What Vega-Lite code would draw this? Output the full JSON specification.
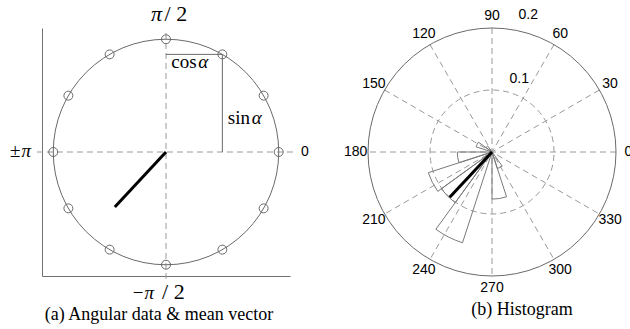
{
  "$schema": "https://vega.github.io/schema/vega-lite/v6.json",
  "autosize": {"type": "pad"},
  "padding": {"left": 10, "top": 2, "right": 0, "bottom": 0},
  "background": "white",
  "bounds": "flush",
  "spacing": 78,
  "config": {
    "view": {"stroke": null},
    "font": "Liberation Sans",
    "title": {"font": "Liberation Serif", "fontSize": 18, "fontWeight": "normal", "color": "black", "orient": "bottom", "anchor": "middle", "frame": "group"}
  },
  "datasets": {
    "circle_a": [{"start": 0, "end": 360, "r": 1}],
    "guides_a": [
      {"x": -1.145, "y": 0, "x2": 1.127, "y2": 0},
      {"x": 0, "y": 1.056, "x2": 0, "y2": -1.162}
    ],
    "samples": [
      {"angle": 0, "x": 1, "y": 0},
      {"angle": 30, "x": 0.866, "y": 0.5},
      {"angle": 60, "x": 0.5, "y": 0.866},
      {"angle": 90, "x": 0, "y": 1},
      {"angle": 120, "x": -0.5, "y": 0.866},
      {"angle": 150, "x": -0.866, "y": 0.5},
      {"angle": 180, "x": -1, "y": 0},
      {"angle": 210, "x": -0.866, "y": -0.5},
      {"angle": 240, "x": -0.5, "y": -0.866},
      {"angle": 270, "x": 0, "y": -1},
      {"angle": 300, "x": 0.5, "y": -0.866},
      {"angle": 330, "x": 0.866, "y": -0.5}
    ],
    "components": [
      {"part": "cos", "x": 0, "y": 0.866, "x2": 0.5, "y2": 0.866},
      {"part": "sin", "x": 0.5, "y": 0.866, "x2": 0.5, "y2": 0}
    ],
    "mean_a": [{"x": 0, "y": 0, "x2": -0.454, "y2": -0.487}],
    "upright_right_a": [
      {"text": "cos", "x": 0.272, "y": 0.743},
      {"text": "sin", "x": 0.745, "y": 0.246},
      {"text": "±", "x": -1.291, "y": -0.042},
      {"text": "−", "x": -0.2, "y": -1.305}
    ],
    "italic_left_a": [
      {"text": "α", "x": 0.287, "y": 0.743},
      {"text": "α", "x": 0.76, "y": 0.246},
      {"text": "π", "x": -1.282, "y": -0.042},
      {"text": "π", "x": -0.19, "y": -1.305}
    ],
    "italic_right_a": [
      {"text": "π", "x": -0.035, "y": 1.165}
    ],
    "upright_left_a": [
      {"text": "/ 2", "x": -0.013, "y": 1.165},
      {"text": "/ 2", "x": -0.035, "y": -1.305}
    ],
    "zero_a": [{"text": "0", "x": 1.233, "y": 0}],
    "rings": [
      {"ring": "outer", "start": 0, "end": 360, "r": 0.2},
      {"ring": "inner", "start": 0, "end": 360, "r": 0.1}
    ],
    "spokes": [
      {"x": 0.2, "y": 0, "x2": -0.2, "y2": 0},
      {"x": 0.1732, "y": 0.1, "x2": -0.1732, "y2": -0.1},
      {"x": 0.1, "y": 0.1732, "x2": -0.1, "y2": -0.1732},
      {"x": 0, "y": 0.2, "x2": 0, "y2": -0.2},
      {"x": -0.1, "y": 0.1732, "x2": 0.1, "y2": -0.1732},
      {"x": -0.1732, "y": 0.1, "x2": 0.1732, "y2": -0.1}
    ],
    "rose": [
      {"start": 126, "end": 144, "freq": 0.012},
      {"start": 144, "end": 162, "freq": 0.027},
      {"start": 180, "end": 198, "freq": 0.056},
      {"start": 198, "end": 216, "freq": 0.108},
      {"start": 216, "end": 234, "freq": 0.101},
      {"start": 234, "end": 252, "freq": 0.154},
      {"start": 270, "end": 288, "freq": 0.076},
      {"start": 288, "end": 306, "freq": 0.028}
    ],
    "mean_b": [{"x": 0, "y": 0, "x2": -0.0682, "y2": -0.0731}],
    "angle_labels": [
      {"label": "0", "x": 0.22, "y": 0},
      {"label": "30", "x": 0.1905, "y": 0.11},
      {"label": "60", "x": 0.11, "y": 0.1905},
      {"label": "90", "x": 0, "y": 0.22},
      {"label": "120", "x": -0.11, "y": 0.1905},
      {"label": "150", "x": -0.1905, "y": 0.11},
      {"label": "180", "x": -0.22, "y": 0},
      {"label": "210", "x": -0.1905, "y": -0.11},
      {"label": "240", "x": -0.11, "y": -0.1905},
      {"label": "270", "x": 0, "y": -0.22},
      {"label": "300", "x": 0.11, "y": -0.1905},
      {"label": "330", "x": 0.1905, "y": -0.11}
    ],
    "ring_labels": [
      {"label": "0.1", "x": 0.044, "y": 0.118},
      {"label": "0.2", "x": 0.0585, "y": 0.221}
    ]
  },
  "hconcat": [
    {
      "width": 248,
      "height": 248,
      "title": {"text": "(a) Angular data & mean vector", "dx": -7, "offset": 3},
      "layer": [
        {
          "data": {"name": "guides_a"},
          "mark": {"type": "rule", "color": "#9a9a9a", "strokeWidth": 1, "strokeDash": [6, 4]},
          "encoding": {
            "x": {"field": "x", "type": "quantitative", "scale": {"domain": [-1.1, 1.1], "nice": false, "zero": false},
                  "axis": {"title": null, "labels": false, "ticks": false, "grid": false, "domainColor": "#707070", "domainWidth": 1}},
            "y": {"field": "y", "type": "quantitative", "scale": {"domain": [-1.1, 1.1], "nice": false, "zero": false},
                  "axis": {"title": null, "labels": false, "ticks": false, "grid": false, "domainColor": "#707070", "domainWidth": 1}},
            "x2": {"field": "x2"},
            "y2": {"field": "y2"}
          }
        },
        {
          "data": {"name": "circle_a"},
          "mark": {"type": "arc", "fill": null, "stroke": "#6a6a6a", "strokeWidth": 1},
          "encoding": {
            "theta": {"field": "start", "type": "quantitative", "stack": null, "scale": {"domain": [0, 360], "range": [1.5708, -4.7124]}},
            "theta2": {"field": "end"},
            "radius": {"field": "r", "type": "quantitative", "stack": null, "scale": {"type": "linear", "domain": [0, 1.1], "range": [0, 124]}}
          }
        },
        {
          "data": {"name": "samples"},
          "mark": {"type": "point", "shape": "circle", "size": 80, "filled": false, "stroke": "#6a6a6a", "strokeWidth": 1, "opacity": 1},
          "encoding": {
            "x": {"field": "x", "type": "quantitative"},
            "y": {"field": "y", "type": "quantitative"}
          }
        },
        {
          "data": {"name": "components"},
          "mark": {"type": "rule", "color": "#6a6a6a", "strokeWidth": 1},
          "encoding": {
            "x": {"field": "x", "type": "quantitative"},
            "y": {"field": "y", "type": "quantitative"},
            "x2": {"field": "x2"},
            "y2": {"field": "y2"}
          }
        },
        {
          "data": {"name": "mean_a"},
          "mark": {"type": "rule", "color": "black", "strokeWidth": 3},
          "encoding": {
            "x": {"field": "x", "type": "quantitative"},
            "y": {"field": "y", "type": "quantitative"},
            "x2": {"field": "x2"},
            "y2": {"field": "y2"}
          }
        },
        {
          "data": {"name": "upright_right_a"},
          "mark": {"type": "text", "font": "Liberation Serif", "fontSize": 19, "align": "right", "baseline": "alphabetic", "color": "black"},
          "encoding": {
            "x": {"field": "x", "type": "quantitative"},
            "y": {"field": "y", "type": "quantitative"},
            "text": {"field": "text"}
          }
        },
        {
          "data": {"name": "italic_left_a"},
          "mark": {"type": "text", "font": "Liberation Serif", "fontSize": 19, "fontStyle": "italic", "align": "left", "baseline": "alphabetic", "color": "black"},
          "encoding": {
            "x": {"field": "x", "type": "quantitative"},
            "y": {"field": "y", "type": "quantitative"},
            "text": {"field": "text"}
          }
        },
        {
          "data": {"name": "italic_right_a"},
          "mark": {"type": "text", "font": "Liberation Serif", "fontSize": 22, "fontStyle": "italic", "align": "right", "baseline": "alphabetic", "color": "black"},
          "encoding": {
            "x": {"field": "x", "type": "quantitative"},
            "y": {"field": "y", "type": "quantitative"},
            "text": {"field": "text"}
          }
        },
        {
          "data": {"name": "upright_left_a"},
          "mark": {"type": "text", "font": "Liberation Serif", "fontSize": 22, "align": "left", "baseline": "alphabetic", "color": "black"},
          "encoding": {
            "x": {"field": "x", "type": "quantitative"},
            "y": {"field": "y", "type": "quantitative"},
            "text": {"field": "text"}
          }
        },
        {
          "data": {"name": "zero_a"},
          "mark": {"type": "text", "font": "Liberation Sans", "fontSize": 14, "align": "center", "baseline": "middle", "color": "black"},
          "encoding": {
            "x": {"field": "x", "type": "quantitative"},
            "y": {"field": "y", "type": "quantitative"},
            "text": {"field": "text"}
          }
        }
      ]
    },
    {
      "width": 248,
      "height": 248,
      "title": {"text": "(b) Histogram", "dx": 30, "offset": 6},
      "layer": [
        {
          "data": {"name": "spokes"},
          "mark": {"type": "rule", "color": "#9a9a9a", "strokeWidth": 1, "strokeDash": [6, 4]},
          "encoding": {
            "x": {"field": "x", "type": "quantitative", "scale": {"domain": [-0.2, 0.2], "nice": false, "zero": false}, "axis": null},
            "y": {"field": "y", "type": "quantitative", "scale": {"domain": [-0.2, 0.2], "nice": false, "zero": false}, "axis": null},
            "x2": {"field": "x2"},
            "y2": {"field": "y2"}
          }
        },
        {
          "data": {"name": "rings"},
          "transform": [{"filter": "datum.ring === 'inner'"}],
          "mark": {"type": "arc", "fill": null, "stroke": "#9a9a9a", "strokeWidth": 1, "strokeDash": [6, 4]},
          "encoding": {
            "theta": {"field": "start", "type": "quantitative", "stack": null, "scale": {"domain": [0, 360], "range": [1.5708, -4.7124]}},
            "theta2": {"field": "end"},
            "radius": {"field": "r", "type": "quantitative", "stack": null, "scale": {"type": "linear", "domain": [0, 0.2], "range": [0, 124]}}
          }
        },
        {
          "data": {"name": "rings"},
          "transform": [{"filter": "datum.ring === 'outer'"}],
          "mark": {"type": "arc", "fill": null, "stroke": "#6a6a6a", "strokeWidth": 1},
          "encoding": {
            "theta": {"field": "start", "type": "quantitative", "stack": null},
            "theta2": {"field": "end"},
            "radius": {"field": "r", "type": "quantitative", "stack": null}
          }
        },
        {
          "data": {"name": "rose"},
          "mark": {"type": "arc", "fill": null, "stroke": "#7a7a7a", "strokeWidth": 1},
          "encoding": {
            "theta": {"field": "start", "type": "quantitative", "stack": null},
            "theta2": {"field": "end"},
            "radius": {"field": "freq", "type": "quantitative", "stack": null}
          }
        },
        {
          "data": {"name": "mean_b"},
          "mark": {"type": "rule", "color": "black", "strokeWidth": 3},
          "encoding": {
            "x": {"field": "x", "type": "quantitative"},
            "y": {"field": "y", "type": "quantitative"},
            "x2": {"field": "x2"},
            "y2": {"field": "y2"}
          }
        },
        {
          "data": {"name": "angle_labels"},
          "mark": {"type": "text", "font": "Liberation Sans", "fontSize": 14, "align": "center", "baseline": "middle", "color": "black"},
          "encoding": {
            "x": {"field": "x", "type": "quantitative"},
            "y": {"field": "y", "type": "quantitative"},
            "text": {"field": "label"}
          }
        },
        {
          "data": {"name": "ring_labels"},
          "mark": {"type": "text", "font": "Liberation Sans", "fontSize": 14, "align": "center", "baseline": "middle", "color": "black"},
          "encoding": {
            "x": {"field": "x", "type": "quantitative"},
            "y": {"field": "y", "type": "quantitative"},
            "text": {"field": "label"}
          }
        }
      ]
    }
  ]
}
